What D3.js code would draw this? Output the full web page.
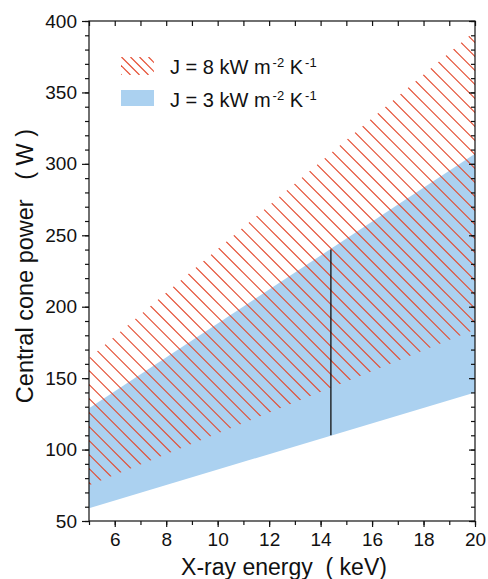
<!DOCTYPE html>
<html>
<head>
<meta charset="utf-8">
<script src="https://cdn.jsdelivr.net/npm/d3@7"></script>
<style>
body { margin: 0; background: #fff; }
text { font-family: "Liberation Sans", Arial, sans-serif; fill: #111; }
</style>
</head>
<body>
<svg id="chart"></svg>
<script>
var width = 488;
var height = 579;
var margin = {top: 21, right: 13, bottom: 58, left: 89};

// band edges, at 5 and 20 keV
var energy = [5, 20];
var j3Low = [59, 140];
var j3High = [129, 307];
var j8Low = [75, 184];
var j8High = [164, 393];

// vertical marker at 14.4 keV
var markEnergy = 14.4;
var markPower = [110, 240];

var xTicks = [6, 8, 10, 12, 14, 16, 18, 20];
var yTicks = [50, 100, 150, 200, 250, 300, 350, 400];

var legendItems = [
    {j: "8", kind: "hatch"},
    {j: "3", kind: "fill"}
];

var blue = "#abd1f0";
var red = "#e4492d";
var nb = "\u00a0";

var w = width - margin.left - margin.right;
var h = height - margin.top - margin.bottom;

var svg = d3.select("#chart")
    .attr("width", width)
    .attr("height", height);

var defs = svg.append("defs");

var xScale = d3.scaleLinear()
                .domain([5, 20])
                .range([0, w]);
var yScale = d3.scaleLinear()
                .domain([50, 400])
                .range([h, 0]);

var plot = svg.append("g")
    .attr("transform", `translate(${margin.left},${margin.top})`);

function band(low, high) {
    return d3.area()
        .x(i => xScale(energy[i]))
        .y0(i => yScale(low[i]))
        .y1(i => yScale(high[i]))(d3.range(energy.length));
}

// diagonal hatch lines (top-left to bottom-right) clipped to a shape
function hatch(g, id, shape, bw, bh, step) {
    defs.append("clipPath").attr("id", id).call(shape);
    var lines = g.append("g").attr("clip-path", `url(#${id})`);
    lines.selectAll("line")
        .data(d3.range(Math.floor(-bh / step) - 1, Math.ceil(bw / step) + 1))
        .enter()
        .append("line")
        .attr("x1", k => k * step + 0.5)
        .attr("y1", 0)
        .attr("x2", k => k * step + 0.5 + bh)
        .attr("y2", bh)
        .attr("stroke", red)
        .attr("stroke-width", 1.15);
}

plot.append("path")
    .attr("d", band(j3Low, j3High))
    .attr("fill", blue);

hatch(plot, "j8clip", function(cp) {
    cp.append("path").attr("d", band(j8Low, j8High));
}, w, h, 14);

plot.append("line")
    .attr("x1", xScale(markEnergy))
    .attr("x2", xScale(markEnergy))
    .attr("y1", yScale(markPower[0]))
    .attr("y2", yScale(markPower[1]))
    .attr("stroke", "#111")
    .attr("stroke-width", 1.3);

// axes
function styleAxis(g) {
    g.select(".domain").remove();
    g.selectAll("line").attr("stroke", "#111").attr("stroke-width", 1.2);
    g.selectAll("text").attr("font-size", 19).attr("fill", "#111")
        .attr("font-family", "\"Liberation Sans\", Arial, sans-serif");
}

plot.append("g")
    .attr("transform", `translate(0,${h})`)
    .call(d3.axisBottom(xScale).tickValues(d3.range(5, 21, 1)).tickSize(4).tickFormat(""))
    .call(styleAxis);
plot.append("g")
    .attr("transform", `translate(0,${h})`)
    .call(d3.axisBottom(xScale).tickValues(xTicks).tickSize(6).tickPadding(6))
    .call(styleAxis);

plot.append("g")
    .call(d3.axisLeft(yScale).tickValues(d3.range(50, 401, 10)).tickSize(4).tickFormat(""))
    .call(styleAxis);
plot.append("g")
    .call(d3.axisLeft(yScale).tickValues(yTicks).tickSize(7).tickPadding(5))
    .call(styleAxis);

plot.append("g")
    .call(d3.axisTop(xScale).tickValues(d3.range(5, 21, 1)).tickSize(-5).tickFormat(""))
    .call(styleAxis);

plot.append("g")
    .attr("transform", `translate(${w},0)`)
    .call(d3.axisRight(yScale).tickValues(d3.range(50, 401, 10)).tickSize(-4).tickFormat(""))
    .call(styleAxis);
plot.append("g")
    .attr("transform", `translate(${w},0)`)
    .call(d3.axisRight(yScale).tickValues(yTicks).tickSize(-6).tickFormat(""))
    .call(styleAxis);

plot.append("rect")
    .attr("width", w)
    .attr("height", h)
    .attr("fill", "none")
    .attr("stroke", "#111")
    .attr("stroke-width", 1.2);

// legend
var legend = svg.append("g");
legendItems.forEach(function(item, i) {
    var ly = 57 + i * 33;
    var sw = legend.append("g").attr("transform", `translate(121,${ly})`);
    if (item.kind === "fill") {
        sw.append("rect").attr("width", 33).attr("height", 16).attr("fill", blue);
    } else {
        hatch(sw, "legclip", function(cp) {
            cp.append("rect").attr("width", 33).attr("height", 18);
        }, 33, 18, 9);
    }
    var t = legend.append("text")
        .attr("x", 170)
        .attr("y", ly + 16.5)
        .attr("font-size", 20);
    t.append("tspan").text(`J = ${item.j} kW m`);
    t.append("tspan").attr("dx", 2).attr("dy", -7).attr("font-size", 13).text("-2");
    t.append("tspan").attr("dy", 7).text(nb + "K");
    t.append("tspan").attr("dx", 2).attr("dy", -7).attr("font-size", 13).text("-1");
});

// axis titles
svg.append("text")
    .attr("x", margin.left + w / 2 + 2)
    .attr("y", 575)
    .attr("text-anchor", "middle")
    .attr("font-size", 23)
    .text("X-ray energy" + nb + nb + "(" + nb + "keV)");

svg.append("text")
    .attr("transform", `translate(33,266) rotate(-90)`)
    .attr("text-anchor", "middle")
    .attr("font-size", 23.5)
    .text("Central cone power" + nb + nb + nb + "(" + nb + "W" + nb + ")");
</script>
</body>
</html>
